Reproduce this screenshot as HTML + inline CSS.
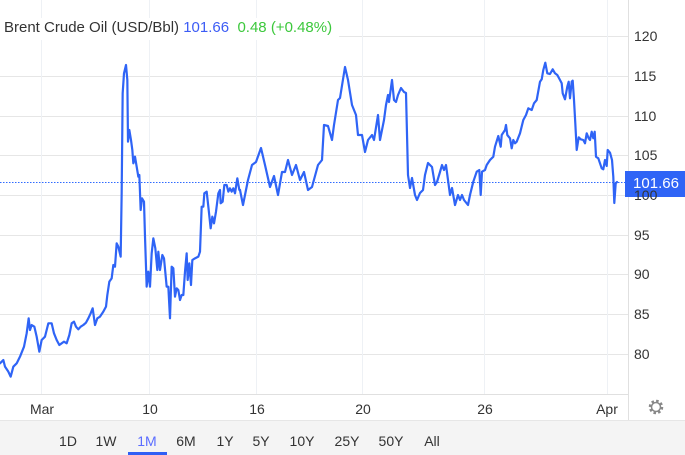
<!DOCTYPE html>
<html><head><style>
body{margin:0;width:685px;height:455px;background:#fff;overflow:hidden;font-family:"Liberation Sans",sans-serif;position:relative}
.t{position:absolute;font-size:14px;color:#333}
</style></head><body>
<svg width="685" height="455" style="position:absolute;left:0;top:0">
<g stroke="#e6e6e6" stroke-width="1">
<line x1="0" y1="36.5" x2="628" y2="36.5"/><line x1="0" y1="76.5" x2="628" y2="76.5"/><line x1="0" y1="116.5" x2="628" y2="116.5"/><line x1="0" y1="155.5" x2="628" y2="155.5"/><line x1="0" y1="195.5" x2="628" y2="195.5"/><line x1="0" y1="235.5" x2="628" y2="235.5"/><line x1="0" y1="274.5" x2="628" y2="274.5"/><line x1="0" y1="314.5" x2="628" y2="314.5"/><line x1="0" y1="354.5" x2="628" y2="354.5"/>
</g>
<g stroke="#eef1f5" stroke-width="1">
<line x1="41.5" y1="0" x2="41.5" y2="394"/><line x1="149.5" y1="0" x2="149.5" y2="394"/><line x1="256.5" y1="0" x2="256.5" y2="394"/><line x1="362.5" y1="0" x2="362.5" y2="394"/><line x1="484.5" y1="0" x2="484.5" y2="394"/><line x1="607.5" y1="0" x2="607.5" y2="394"/>
</g>
<line x1="0" y1="394.5" x2="629" y2="394.5" stroke="#e0e0e0"/>
<line x1="628.5" y1="0" x2="628.5" y2="420" stroke="#e0e0e0"/>
<rect x="0" y="420" width="685" height="35" fill="#f4f4f4"/>
<line x1="0" y1="420.5" x2="685" y2="420.5" stroke="#e6e6e6"/>
<rect x="128" y="452" width="39" height="3" fill="#2f5ff5"/>
<line x1="0" y1="182.5" x2="628" y2="182.5" stroke="#2f6bff" stroke-width="1" stroke-dasharray="1.5,1.5"/>
<g fill="none" stroke="#2f64f6" stroke-width="2.2" stroke-linejoin="round" stroke-linecap="round">
<g transform="translate(0,60) scale(0.33333)" stroke-width="6.6">
<polyline points="0,910 10,900 15,920 25,935 32,950 40,920 50,910 60,890 72,860 80,820 86,775 90,810 95,795 103,800 110,830 118,875 125,840 135,830 145,790 155,790 162,820 170,840 178,855 185,850 192,845 200,850 208,825 215,790 222,785 228,800 235,808 242,800 250,795 258,788 265,775 272,760 278,745 285,795 292,775 300,770 310,755 318,740 322,705 328,665 335,655 340,615 345,620 350,550 355,560 362,590 365,400 368,100 372,40 378,15 382,60 384,245 388,210 393,240 397,270 400,310 405,290 410,320 415,350 418,345 422,450 426,415 432,425 435,530 440,680 445,635 450,680 455,580 460,535 466,565 472,630 475,575 480,630 487,585 492,595 500,680 505,680 510,775 515,620 520,625 525,710 530,685 535,690 540,720 545,705 550,705 555,635 560,580 563,660 568,610 573,675 577,600 585,595 595,590 600,575 605,440 610,440 613,400 620,395 625,440 632,505 637,470 642,490 648,455 655,400 660,390 662,430 668,425 673,375 680,375 685,395 690,385 695,395 700,385 705,400 712,355 718,390 720,390"/>
</g>
<polyline points="240,190 243,205 248,180 252,165 256,162 261,148 265,165 270,187 274,176 278,195 282,172 285,172 288,160 292,175 296,165 300,180 304,172 308,190 312,187 318,165 322,160 324,125 328,126 332,140 334,125 338,100 340,98 345,67 348,80 352,105 356,115 358,135 362,135 365,152 368,140 372,135 374,140 378,115 380,140 382,130 384,120 386,105 388,95 389,102 392,80 394,100 396,102 398,95 401,88 404,92 406,93 408,175 410,188 412,178 415,195 417,200 420,193 423,190 425,175 428,163 432,167 435,185 437,182 440,172 442,165 444,170 446,165 448,180 450,195 452,188 455,205 458,195 460,200 462,195 464,200 468,205 470,195"/>
<polyline points="470,195 473.3,181.7 476.7,171.7 479.3,170 480.7,195 482,171.7 485,170 486.7,165 490,160 493.3,156.7 495,146.7 498.3,136 500.7,146.7 501.7,135 505,130 506,125 507.3,135 510,138.3 511.7,148.3 513.3,140 515,143.3 516.7,141.7 520,133.3 523.3,120 526,115 528.3,108.3 531.7,110 534,103.3 536.7,100 540,81.7 541.7,79.3 543.3,70 545.3,62.7 547.3,73.3 550,74 552.7,69.3 555,73.3 557.3,75 560,80 561.7,83.3 562.7,93.3 565,99.3 567.3,86.7 568.7,81.7 570,98.3 571.7,81.7 572.7,80.7 574,100 575.3,123.3 576.7,150 578.7,137.3 580.7,139.3 583.3,140 585,143.3 586.7,133.3 588.7,138.3 590,140 591.7,131.7 593.3,138.3 594.7,131.7 596,156.7 598.3,158.3 600,163.3 601.7,168.3 603.3,169.3 605,160 606.7,166 607.7,150 610,152.7 612,160 613.3,176.7 614.3,203 615.7,183.3 617,182"/>
</g>
<rect x="625" y="171" width="60" height="26" fill="#2f64f6"/>
<g fill="#888" transform="translate(656,407)">
<circle r="6" fill="none" stroke="#888" stroke-width="2.5" stroke-dasharray="2.5,2.2"/>
<circle r="4.5" fill="none" stroke="#888" stroke-width="1.5"/>
</g>
</svg>
<div style="position:absolute;left:0;top:18px;width:339px;height:22px;background:#fff"></div>
<div class="t" style="left:4px;top:19px;font-size:15px;color:#333;white-space:nowrap">Brent Crude Oil (USD/Bbl) <span style="color:#3c5cf5">101.66</span>&nbsp; <span style="color:#3cc83c">0.48 (+0.48%)</span></div>
<div class="t" style="left:634px;top:28px">120</div>
<div class="t" style="left:634px;top:68px">115</div>
<div class="t" style="left:634px;top:108px">110</div>
<div class="t" style="left:634px;top:147px">105</div>
<div class="t" style="left:634px;top:187px">100</div>
<div class="t" style="left:634px;top:227px">95</div>
<div class="t" style="left:634px;top:266px">90</div>
<div class="t" style="left:634px;top:306px">85</div>
<div class="t" style="left:634px;top:346px">80</div>
<div class="t" style="left:627px;top:175px;width:58px;text-align:center;color:#fff;font-size:15px">101.66</div>
<div class="t" style="left:22px;top:401px;width:40px;text-align:center">Mar</div>
<div class="t" style="left:130px;top:401px;width:40px;text-align:center">10</div>
<div class="t" style="left:237px;top:401px;width:40px;text-align:center">16</div>
<div class="t" style="left:343px;top:401px;width:40px;text-align:center">20</div>
<div class="t" style="left:465px;top:401px;width:40px;text-align:center">26</div>
<div class="t" style="left:587px;top:401px;width:40px;text-align:center">Apr</div>
<div class="t" style="left:48px;top:433px;width:40px;text-align:center">1D</div>
<div class="t" style="left:86px;top:433px;width:40px;text-align:center">1W</div>
<div class="t" style="left:127px;top:433px;width:40px;text-align:center;color:#5a6cff">1M</div>
<div class="t" style="left:166px;top:433px;width:40px;text-align:center">6M</div>
<div class="t" style="left:205px;top:433px;width:40px;text-align:center">1Y</div>
<div class="t" style="left:241px;top:433px;width:40px;text-align:center">5Y</div>
<div class="t" style="left:282px;top:433px;width:40px;text-align:center">10Y</div>
<div class="t" style="left:327px;top:433px;width:40px;text-align:center">25Y</div>
<div class="t" style="left:371px;top:433px;width:40px;text-align:center">50Y</div>
<div class="t" style="left:412px;top:433px;width:40px;text-align:center">All</div>
</body></html>
